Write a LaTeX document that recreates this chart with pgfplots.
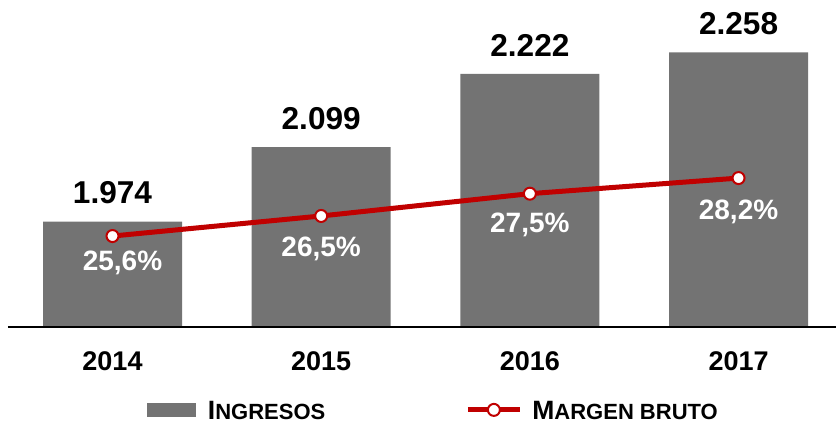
\documentclass[border=0pt]{standalone}
\usepackage{pgfplots}
\pgfplotsset{compat=1.18}
\usepackage{pgfplotstable}
\usepackage{fontspec}
\setmainfont{Liberation Sans}
\definecolor{bargray}{HTML}{737373}
\definecolor{mred}{HTML}{C00000}

\pgfplotstableread{
x y label dx dy
0 25.6 {25,6\%} 5 -13.5
1 26.5 {26,5\%} 0 -16.5
2 27.5 {27,5\%} 0 -15.5
3 28.2 {28,2\%} 0 -17
}\margen

\begin{document}
\begin{tikzpicture}
\useasboundingbox (-4pt,-48pt) rectangle (414pt,163.5pt);
\begin{axis}[scale only axis,width=414pt,height=153.5pt,
  xmin=-0.5008,xmax=3.467,ymin=1797,ymax=2312.5,
  hide axis,clip=false]
\addplot[ybar,bar width=69.5pt,fill=bargray,draw=none,
  point meta=explicit symbolic,nodes near coords,
  every node near coord/.append style={anchor=center,yshift=14.25pt,inner sep=0pt,
    font=\fontsize{15.8}{15.8}\selectfont\bfseries,text=black}]
  coordinates {(0,1974) [1.974] (1,2099) [2.099] (2,2222) [2.222] (3,2258) [2.258]};
\end{axis}
\begin{axis}[scale only axis,width=414pt,height=153.5pt,
  xmin=-0.5008,xmax=3.467,ymin=21.52,ymax=35.29,
  axis x line=bottom,axis y line=none,
  axis line style={black,line width=0.75pt,-},
  xtick={0,1,2,3},xticklabels={2014,2015,2016,2017},
  major tick length=0pt,
  xticklabel style={font=\fontsize{13.5}{13.5}\selectfont\bfseries,anchor=center,yshift=-17pt},
  ytick=\empty,clip=false,
  legend columns=2,
  legend style={draw=none,fill=none,at={(0.5127,-0.270)},anchor=center,
    font=\bfseries,
    /tikz/every even column/.append style={column sep=70pt},
    nodes={inner sep=0pt,outer sep=0pt,text depth=0pt}},
  legend cell align=left]
\addlegendimage{legend image code/.code={\fill[bargray] (0pt,-3.25pt) rectangle (24pt,3.25pt);\path (30pt,0pt);}}
\addlegendentry{{\fontsize{13.25}{13.25}\selectfont I}{\fontsize{11}{11}\selectfont NGRESOS}}
\addplot[mred,line width=2.5pt,mark=*,mark size=3pt,
  mark options={fill=white,draw=mred,line width=1pt},
  legend image code/.code={\draw[mred,line width=2.5pt] (0pt,0pt) -- (26pt,0pt);
    \draw[mred,fill=white,line width=1pt] (13pt,0pt) circle (3pt);\path (31pt,0pt);},
  point meta=explicit symbolic,nodes near coords,
  visualization depends on={\thisrow{dx} \as \dx},
  visualization depends on={\thisrow{dy} \as \dy},
  every node near coord/.append style={anchor=center,xshift=\dx pt,yshift=\dy pt,
    inner sep=0pt,font=\fontsize{14}{14}\selectfont\bfseries,text=white}]
  table[x=x,y=y,meta=label] {\margen};
\addlegendentry{{\fontsize{13.25}{13.25}\selectfont M}{\fontsize{11}{11}\selectfont ARGEN BRUTO}}
\end{axis}
\end{tikzpicture}
\end{document}
